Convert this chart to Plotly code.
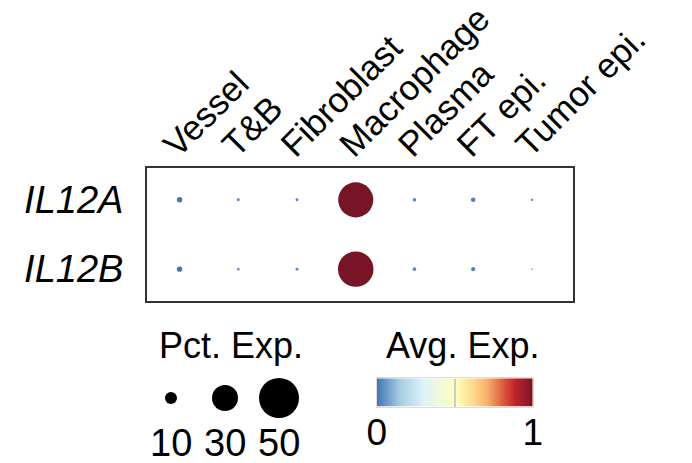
import plotly.graph_objects as go

# ---- data ----
cell_types = ["Vessel", "T&B", "Fibroblast", "Macrophage", "Plasma", "FT epi.", "Tumor epi."]
genes = ["IL12A", "IL12B"]
pct_IL12A = [4.1, 1.8, 1.8, 43.0, 2.3, 3.2, 1.4]
pct_IL12B = [4.0, 1.4, 1.8, 43.5, 2.3, 2.8, 0.9]
avg_IL12A = [0.0, 0.03, 0.03, 1.0, 0.03, 0.02, 0.05]
avg_IL12B = [0.0, 0.04, 0.04, 1.0, 0.03, 0.02, 0.12]
size_breaks = [10, 30, 50]
color_range = [0, 1]
color_ticks = [0, 0.5, 1]
color_ticktext = ["0", "", "1"]

W, H = 692, 463
FONT = "Liberation Sans, Arial, Helvetica, sans-serif"

colorscale = [
    [0.0, "#4575b4"], [0.15, "#a6d0e4"], [0.3, "#e0f3f8"], [0.5, "#ffffbf"],
    [0.6, "#fee090"], [0.7, "#f9b46e"], [0.8, "#e0603f"], [0.88, "#c1272d"],
    [1.0, "#771425"],
]


def dot_size(p):
    # diameter in px, linear in percent expressed
    return 0.7 * p + 5 if p >= 10 else 1 + 1.1 * p


fig = go.Figure()

xs, ys, sz, cl = [], [], [], []
for g, pcts, avgs in [("IL12A", pct_IL12A, avg_IL12A), ("IL12B", pct_IL12B, avg_IL12B)]:
    for c, p, a in zip(cell_types, pcts, avgs):
        xs.append(c)
        ys.append(g)
        sz.append(dot_size(p))
        cl.append(a)

fig.add_trace(go.Scatter(
    x=xs, y=ys, mode="markers",
    marker=dict(size=sz, color=cl, colorscale=colorscale, cmin=color_range[0], cmax=color_range[1],
                line=dict(width=0), opacity=1, showscale=False),
    hoverinfo="skip", showlegend=False,
))

# size legend
fig.add_trace(go.Scatter(
    x=[0, 1, 2], y=[0, 0, 0], mode="markers",
    marker=dict(size=[dot_size(b) for b in size_breaks], color="#000000", opacity=1,
                line=dict(width=0)),
    xaxis="x2", yaxis="y2", hoverinfo="skip", showlegend=False,
))
for i, b in enumerate(size_breaks):
    fig.add_annotation(x=i, xref="x2", y=1 - 442.5 / H, yref="paper", text=str(b),
                       showarrow=False, xanchor="center", yanchor="middle",
                       font=dict(family=FONT, size=38, color="black"))

# colour legend (gradient bar)
fig.add_trace(go.Heatmap(
    z=[color_range], x=color_range, y=[0],
    colorscale=colorscale, zmin=color_range[0], zmax=color_range[1],
    zsmooth="best", showscale=False, hoverinfo="skip",
    xaxis="x3", yaxis="y3",
))

fig.add_annotation(x=231 / W, y=1 - 345 / H, xref="paper", yref="paper", text="Pct. Exp.",
                   showarrow=False, xanchor="center", yanchor="middle",
                   font=dict(family=FONT, size=36, color="black"))
fig.add_annotation(x=462 / W, y=1 - 345 / H, xref="paper", yref="paper", text="Avg. Exp.",
                   showarrow=False, xanchor="center", yanchor="middle",
                   font=dict(family=FONT, size=36, color="black"))

fig.update_layout(
    width=W, height=H,
    margin=dict(l=0, r=0, t=0, b=0),
    paper_bgcolor="white", plot_bgcolor="white",
    font=dict(family=FONT, color="black"),
    xaxis=dict(
        domain=[147 / W, 573 / W], range=[-0.555, 6.70],
        categoryorder="array", categoryarray=cell_types,
        side="top", tickangle=-45, showgrid=False, zeroline=False,
        showline=True, mirror=True, linecolor="#333333", linewidth=2,
        ticks="", ticklabelstandoff=-12, ticklabelshift=-14,
        tickfont=dict(family=FONT, size=35, color="black"),
        automargin=False,
    ),
    yaxis=dict(
        domain=[1 - 301 / H, 1 - 168 / H], range=[1.46, -0.46],
        categoryorder="array", categoryarray=genes,
        showgrid=False, zeroline=False,
        showline=True, mirror=True, linecolor="#333333", linewidth=2,
        ticks="", ticklabelstandoff=14,
        tickfont=dict(family=FONT, size=38, color="black", style="italic"),
        automargin=False,
    ),
    xaxis2=dict(domain=[144 / W, 306 / W], range=[-0.5, 2.5], visible=False, anchor="y2"),
    yaxis2=dict(domain=[1 - 418 / H, 1 - 378 / H], range=[-1, 1], visible=False, anchor="x2"),
    xaxis3=dict(
        domain=[376.7 / W, 532.7 / W], range=color_range, anchor="y3",
        tickvals=color_ticks, ticktext=color_ticktext,
        ticks="inside", ticklen=28, tickcolor="#cccccc", tickwidth=1.5,
        showline=True, mirror=True, linecolor="#dddddd", linewidth=1,
        showgrid=False, zeroline=False, automargin=False,
        ticklabelstandoff=-7,
        tickfont=dict(family=FONT, size=37, color="black"),
    ),
    yaxis3=dict(
        domain=[1 - 406.7 / H, 1 - 378.3 / H], range=[-0.5, 0.5], anchor="x3",
        showline=True, mirror=True, linecolor="#dddddd", linewidth=1,
        showticklabels=False, ticks="", showgrid=False, zeroline=False, automargin=False,
    ),
)

fig.write_html("out.html")
